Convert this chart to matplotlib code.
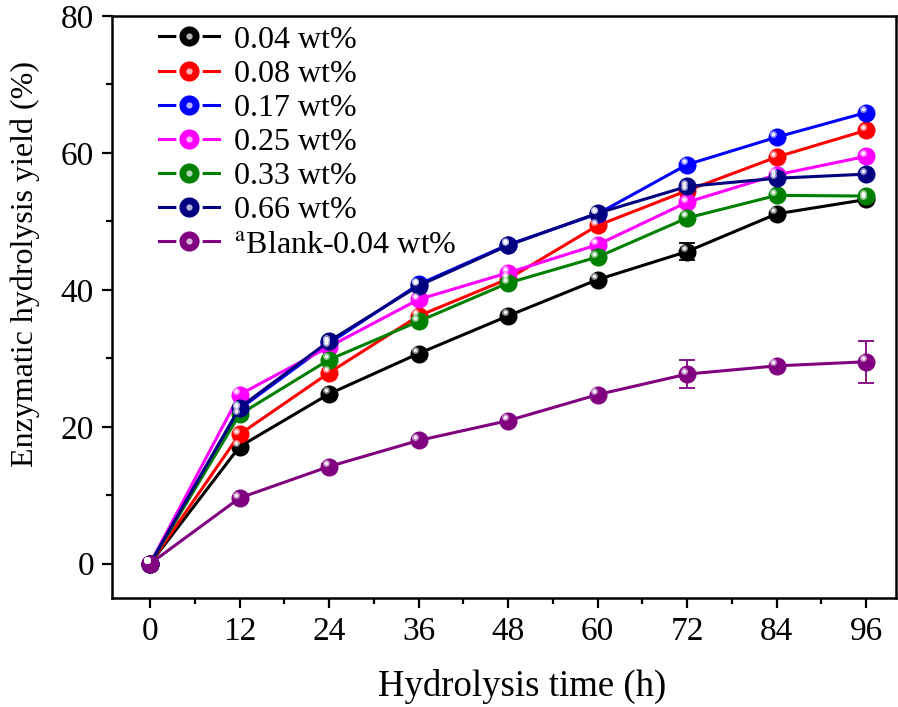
import numpy as np
import matplotlib
matplotlib.use('Agg')
import matplotlib.pyplot as plt
from matplotlib.lines import Line2D
from matplotlib.transforms import ScaledTranslation

plt.rcParams['font.family'] = ['Liberation Serif', 'DejaVu Serif']
plt.rcParams['mathtext.fontset'] = 'stix'

# data
time_h = [0, 12, 24, 36, 48, 60, 72, 84, 96]

y_004 = [0, 17.1, 24.8, 30.7, 36.2, 41.5, 45.6, 51.1, 53.2]
y_008 = [0, 18.9, 27.9, 36.2, 41.6, 49.4, 54.5, 59.4, 63.3]
y_017 = [0, 22.6, 32.2, 40.8, 46.6, 51.1, 58.3, 62.3, 65.9]
y_025 = [0, 24.7, 31.7, 38.6, 42.5, 46.6, 52.8, 56.8, 59.5]
y_033 = [0, 21.8, 29.8, 35.4, 41.0, 44.8, 50.5, 53.8, 53.7]
y_066 = [0, 22.8, 32.5, 40.6, 46.5, 51.2, 55.1, 56.3, 56.9]
y_blank = [0, 9.6, 14.2, 18.0, 20.9, 24.7, 27.7, 28.9, 29.5]

err_004 = [0, 0.4, 0.3, 0.3, 0.3, 0.3, 1.2, 0.3, 0.4]
err_blank = [0, 0.3, 0.3, 0.3, 0.3, 0.3, 2.1, 0.3, 3.1]

labels = ['0.04 wt%', '0.08 wt%', '0.17 wt%', '0.25 wt%', '0.33 wt%',
          '0.66 wt%', r'$^{\mathrm{a}}$Blank-0.04 wt%']
colors = ['black', 'red', 'blue', 'magenta', 'green', 'navy', 'purple']
series = [y_004, y_008, y_017, y_025, y_033, y_066, y_blank]
errors = [err_004, None, None, None, None, None, err_blank]

fig = plt.figure(figsize=(8.98, 7.07), dpi=100)
ax = fig.add_axes([0.1247, 0.1542, 0.8731, 0.8232])

# shift for the little highlight on each ball
shine = ScaledTranslation(-2.5 / 72, 2.5 / 72, fig.dpi_scale_trans)

handles = []
for ys, c, lab, err in zip(series, colors, labels, errors):
    if err is not None:
        ax.errorbar(time_h, ys, yerr=err, fmt='none', ecolor=c,
                    elinewidth=1.3, capsize=6, capthick=1.3, zorder=2)
    ax.plot(time_h, ys, '-', color=c, lw=2.2, marker='o', ms=13,
            mfc=c, mec=c, mew=0, zorder=3)
    ax.plot(time_h, ys, 'o', ms=5, mfc='white', mec='none', alpha=0.55,
            transform=ax.transData + shine, zorder=4)
    ax.plot(time_h, ys, 'o', ms=2.5, mfc='white', mec='none', alpha=0.9,
            transform=ax.transData + shine, zorder=5)
    # legend handle: line with a gap around the ball
    h_line = Line2D([], [], color=c, lw=2.2)
    h_gap = Line2D([], [], ls='none', marker='o', ms=19, mfc='white',
                   mec='none')
    h_ball = Line2D([], [], ls='none', marker='o', ms=14.5, mfc=c, mec='none')
    h_shine = Line2D([], [], ls='none', marker='o', ms=4.5, mfc='white',
                     mec='none', alpha=0.7)
    handles.append((h_line, h_gap, h_ball, h_shine))

ax.set_xlim(-5.1, 100)
ax.set_ylim(-5, 80)
ax.set_xticks(time_h)
ax.set_xticks([6, 18, 30, 42, 54, 66, 78, 90], minor=True)
ax.set_yticks([0, 20, 40, 60, 80])
ax.set_yticks([10, 30, 50, 70], minor=True)
ax.tick_params(which='major', direction='out', length=7, width=1.6,
               labelsize=24, pad=6)
ax.tick_params(which='minor', direction='out', length=4.5, width=1.6)
for sp in ax.spines.values():
    sp.set_linewidth(1.8)

ax.set_xlabel('Hydrolysis time (h)', fontsize=26.5, labelpad=16)
ax.xaxis.label.set_x(0.523)
ax.set_ylabel('Enzymatic hydrolysis yield (%)', fontsize=23, labelpad=15)
ax.yaxis.label.set_y(0.574)

ax.legend(handles=handles, labels=labels, loc='upper left', frameon=False,
          fontsize=23, bbox_to_anchor=(0.035, 1.017), handlelength=1.9,
          handletextpad=0.47, labelspacing=0.15, borderaxespad=0.2)

fig.savefig('out.png', dpi=100)
